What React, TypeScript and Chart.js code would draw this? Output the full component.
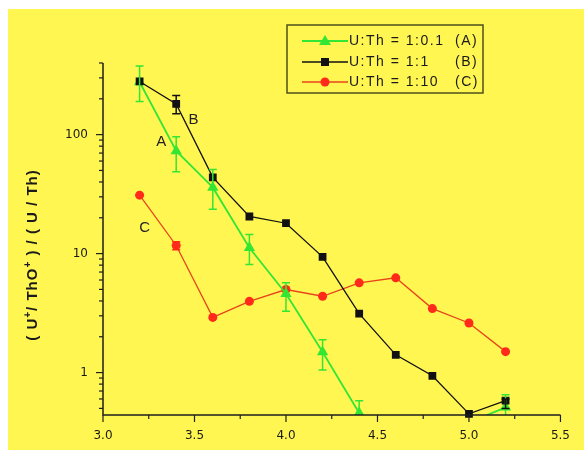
import React, { useEffect, useRef } from 'react';
import { Chart, registerables } from 'chart.js';

Chart.register(...registerables);

// ---- data ----
const xValues = [3.2, 3.4, 3.6, 3.8, 4.0, 4.2, 4.4, 4.6, 4.8, 5.0, 5.2];
const seriesA = [277, 73, 36, 11.2, 4.6, 1.49, 0.457, null, null, 0.38, 0.51];
const seriesB = [280, 181, 43.7, 20.5, 18, 9.4, 3.13, 1.41, 0.94, 0.45, 0.58];
const seriesC = [31, 11.7, 2.91, 3.97, 4.99, 4.38, 5.68, 6.26, 3.45, 2.61, 1.5];
const errA: (number[] | null)[] = [[190, 378], [48.7, 96], [23.6, 51], [8.1, 14.5], [3.27, 5.68], [1.05, 1.89], [0.36, 0.58], null, null, null, [0.42, 0.65]];
const errB: (number[] | null)[] = [null, [150, 213], null, null, null, null, null, null, null, null, [0.5, 0.6]];
const errC: (number[] | null)[] = [null, [10.8, 12.6], null, null, null, null, null, null, null, null, null];
const legendLabels = ['U:Th = 1:0.1', 'U:Th = 1:1', 'U:Th = 1:10'];
const legendTags = ['(A)', '(B)', '(C)'];
const curveTags = ['A', 'B', 'C'];
const curveTagX = [3.318, 3.495, 3.228];
const curveTagY = [86.8, 133, 16.6];
const xMajorTicks = [3.0, 3.5, 4.0, 4.5, 5.0, 5.5];
const xTickLabels = ['3.0', '3.5', '4.0', '4.5', '5.0', '5.5'];
const yMajorTicks = [1, 10, 100];
const yTickLabels = ['1', '10', '100'];
const yTitleParts: [string, boolean][] = [['( U', false], ['+', true], ['/ ThO', false], ['+', true], [' ) / ( U / Th)', false]];

// ---- styles ----
const BG = '#fff652';
const GREEN = '#33e633';
const BLACK = '#111111';
const RED_LINE = '#e8441a';
const RED = '#ff2a1a';
const AXIS = '#1e1e1e';

const yTickValues: number[] = [];
for (let e = -1; e <= 2; e++) {
  for (let d = 1; d <= 9; d++) {
    const v = e >= 0 ? d * Math.pow(10, e) : d / 10;
    if (v >= 0.44 && v <= 400) yTickValues.push(v);
  }
}

function drawMarker(ctx: CanvasRenderingContext2D, style: string, x: number, y: number, color: string) {
  ctx.save();
  ctx.fillStyle = color;
  ctx.beginPath();
  if (style === 'triangle') {
    ctx.moveTo(x, y - 6);
    ctx.lineTo(x + 6, y + 4);
    ctx.lineTo(x - 6, y + 4);
    ctx.closePath();
  } else if (style === 'rect') {
    ctx.rect(x - 4, y - 4, 8, 8);
  } else {
    ctx.arc(x, y, 4.5, 0, Math.PI * 2);
  }
  ctx.fill();
  ctx.restore();
}

const bgPlugin = {
  id: 'bg',
  beforeDraw(chart: any) {
    const { ctx, width, height } = chart;
    ctx.save();
    ctx.fillStyle = BG;
    ctx.fillRect(0, 0, width, height);
    ctx.restore();
  },
};

const errorSets = [
  { errs: errA, color: GREEN },
  { errs: errB, color: BLACK },
  { errs: errC, color: RED },
];

const errorBarPlugin = {
  id: 'errorBars',
  afterDatasetsDraw(chart: any) {
    const { ctx, chartArea: ca, scales } = chart;
    const x = scales.x, y = scales.y;
    ctx.save();
    ctx.beginPath();
    ctx.rect(ca.left, ca.top - 10, ca.right - ca.left, ca.bottom - ca.top + 10);
    ctx.clip();
    errorSets.forEach(({ errs, color }) => {
      ctx.strokeStyle = color;
      ctx.lineWidth = 1.5;
      errs.forEach((e, i) => {
        if (!e) return;
        const px = x.getPixelForValue(xValues[i]);
        const lo = y.getPixelForValue(e[0]);
        const hi = y.getPixelForValue(e[1]);
        ctx.beginPath();
        ctx.moveTo(px, lo); ctx.lineTo(px, hi);
        ctx.moveTo(px - 4, lo); ctx.lineTo(px + 4, lo);
        ctx.moveTo(px - 4, hi); ctx.lineTo(px + 4, hi);
        ctx.stroke();
      });
    });
    ctx.restore();
  },
};

const axesPlugin = {
  id: 'axesDraw',
  afterDatasetsDraw(chart: any) {
    const { ctx, chartArea: ca, scales } = chart;
    const x = scales.x, y = scales.y;
    ctx.save();
    ctx.strokeStyle = AXIS;
    ctx.lineWidth = 1.5;
    ctx.beginPath();
    ctx.moveTo(ca.left, ca.top);
    ctx.lineTo(ca.left, ca.bottom);
    ctx.lineTo(ca.right, ca.bottom);
    ctx.stroke();
    ctx.lineWidth = 1.2;
    y.ticks.forEach((t: any) => {
      const py = y.getPixelForValue(t.value);
      const len = yMajorTicks.includes(t.value) ? 7 : 4;
      ctx.beginPath();
      ctx.moveTo(ca.left - len, py);
      ctx.lineTo(ca.left, py);
      ctx.stroke();
    });
    x.ticks.forEach((t: any) => {
      const px = x.getPixelForValue(t.value);
      const major = xMajorTicks.some((m) => Math.abs(m - t.value) < 1e-6);
      const len = major ? 7 : 4;
      ctx.beginPath();
      ctx.moveTo(px, ca.bottom);
      ctx.lineTo(px, ca.bottom + len);
      ctx.stroke();
    });
    ctx.restore();
  },
};

const textPlugin = {
  id: 'texts',
  afterDraw(chart: any) {
    const { ctx, chartArea: ca, scales } = chart;
    const x = scales.x, y = scales.y;
    ctx.save();

    // y-axis title
    ctx.save();
    ctx.translate(25, ca.top + 192);
    ctx.rotate(-Math.PI / 2);
    ctx.fillStyle = '#1a1a1a';
    ctx.textBaseline = 'middle';
    ctx.textAlign = 'left';
    const mainFont = 'bold 15px "Liberation Sans", Arial, sans-serif';
    const supFont = 'bold 10px "Liberation Sans", Arial, sans-serif';
    (ctx as any).letterSpacing = '1px';
    let total = 0;
    yTitleParts.forEach(([s, sup]) => {
      ctx.font = sup ? supFont : mainFont;
      total += ctx.measureText(s).width;
    });
    let cx = -total / 2;
    yTitleParts.forEach(([s, sup]) => {
      ctx.font = sup ? supFont : mainFont;
      ctx.fillText(s, cx, sup ? -5 : 0);
      cx += ctx.measureText(s).width;
    });
    ctx.restore();

    // curve tags
    ctx.fillStyle = '#222';
    ctx.font = '15px "Liberation Sans", Arial, sans-serif';
    ctx.textAlign = 'center';
    ctx.textBaseline = 'middle';
    curveTags.forEach((t, i) => {
      ctx.fillText(t, x.getPixelForValue(curveTagX[i]), y.getPixelForValue(curveTagY[i]));
    });

    // legend
    const bx = ca.left + 184, by = ca.top - 38, bw = 196, bh = 68;
    ctx.strokeStyle = '#4f4f1c';
    ctx.lineWidth = 1.5;
    ctx.strokeRect(bx, by, bw, bh);
    const colors = [GREEN, BLACK, RED_LINE];
    const mcolors = [GREEN, BLACK, RED];
    const styles = ['triangle', 'rect', 'circle'];
    const rows = [by + 16, by + 37, by + 57];
    ctx.font = '14px "Liberation Sans", Arial, sans-serif';
    (ctx as any).letterSpacing = '1.5px';
    ctx.textAlign = 'left';
    ctx.textBaseline = 'middle';
    legendLabels.forEach((lab, i) => {
      const ry = rows[i];
      ctx.strokeStyle = colors[i];
      ctx.lineWidth = i === 0 ? 2 : 1.5;
      ctx.beginPath();
      ctx.moveTo(bx + 15, ry);
      ctx.lineTo(bx + 61, ry);
      ctx.stroke();
      drawMarker(ctx, styles[i], bx + 38, ry, mcolors[i]);
      ctx.fillStyle = '#1a1a1a';
      ctx.fillText(lab, bx + 62, ry);
      ctx.fillText(legendTags[i], bx + 168, ry);
    });
    ctx.restore();
  },
};

export default function App() {
  const ref = useRef<HTMLCanvasElement>(null);
  useEffect(() => {
    const tickFont = { family: '"DejaVu Sans", sans-serif', size: 12 };
    const mk = (arr: (number | null)[]) => xValues.map((xv, i) => ({ x: xv, y: arr[i] }));
    const chart = new Chart(ref.current!, {
      type: 'line',
      data: {
        datasets: [
          {
            label: 'B',
            data: mk(seriesB) as any,
            borderColor: BLACK,
            backgroundColor: BLACK,
            borderWidth: 1.3,
            pointStyle: 'rect',
            pointRadius: 5.5,
            pointBackgroundColor: BLACK,
            pointBorderColor: BLACK,
            pointBorderWidth: 0,
            clip: { left: 10, top: 10, right: 10, bottom: 3 } as any,
          },
          {
            label: 'A',
            data: mk(seriesA) as any,
            borderColor: GREEN,
            backgroundColor: GREEN,
            borderWidth: 1.8,
            pointStyle: 'triangle',
            pointRadius: 6.5,
            pointBackgroundColor: GREEN,
            pointBorderColor: GREEN,
            pointBorderWidth: 0,
            spanGaps: false,
            clip: { left: 10, top: 10, right: 10, bottom: 0 } as any,
          },
          {
            label: 'C',
            data: mk(seriesC) as any,
            borderColor: RED_LINE,
            backgroundColor: RED,
            borderWidth: 1.3,
            pointStyle: 'circle',
            pointRadius: 4.5,
            pointBackgroundColor: RED,
            pointBorderColor: RED,
            pointBorderWidth: 0,
          },
        ],
      },
      options: {
        responsive: false,
        animation: false,
        events: [],
        layout: { padding: { top: 54, right: 12, bottom: 0, left: 0 } },
        plugins: { legend: { display: false }, tooltip: { enabled: false } },
        scales: {
          x: {
            type: 'linear',
            min: 3,
            max: 5.5,
            grid: { display: false, drawTicks: false },
            border: { display: false },
            ticks: {
              stepSize: 0.25,
              autoSkip: false,
              maxRotation: 0,
              padding: 14,
              color: '#1a1a1a',
              font: tickFont,
              callback: (v: any) => {
                const idx = xMajorTicks.findIndex((m) => Math.abs(m - Number(v)) < 1e-6);
                return idx >= 0 ? xTickLabels[idx] : '';
              },
            },
            afterFit: (s: any) => { s.height = 35; },
          },
          y: {
            type: 'logarithmic',
            min: 0.44,
            max: 400,
            grid: { display: false, drawTicks: false },
            border: { display: false },
            afterBuildTicks: (s: any) => {
              s.ticks = yTickValues.map((v) => ({ value: v, major: yMajorTicks.includes(v) }));
            },
            ticks: {
              autoSkip: false,
              padding: 15,
              color: '#1a1a1a',
              font: tickFont,
              callback: (v: any) => {
                const idx = yMajorTicks.indexOf(Number(v));
                return idx >= 0 ? yTickLabels[idx] : '';
              },
            },
            afterFit: (s: any) => { s.width = 95; },
          },
        },
      },
      plugins: [bgPlugin, errorBarPlugin, axesPlugin, textPlugin],
    });
    return () => chart.destroy();
  }, []);
  return (
    <div style={{ position: 'fixed', left: 8, top: 9, width: 576, height: 441 }}>
      <canvas ref={ref} width={576} height={441} style={{ display: 'block' }} />
    </div>
  );
}
